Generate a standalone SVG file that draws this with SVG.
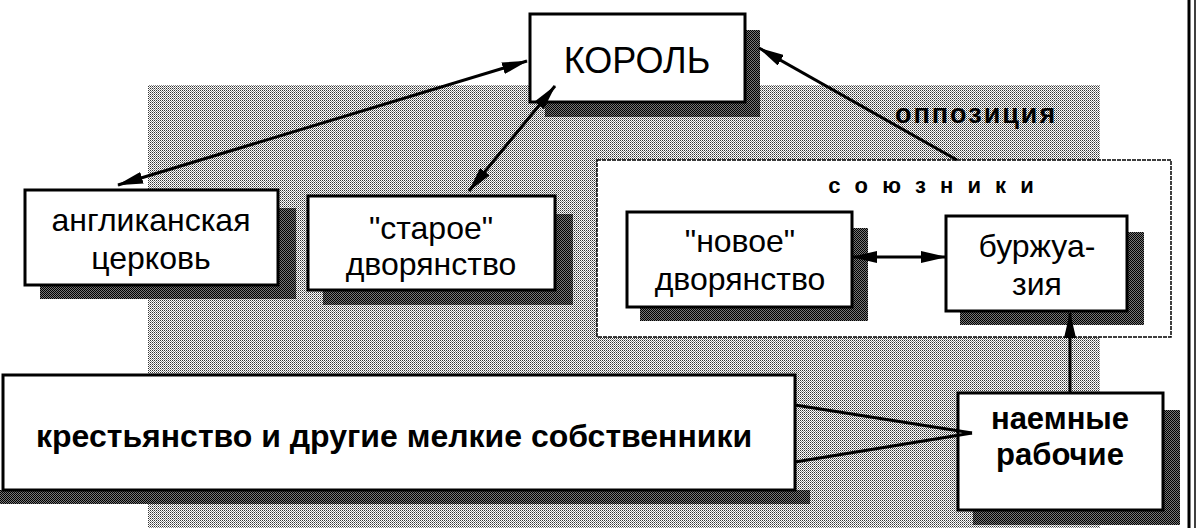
<svg xmlns="http://www.w3.org/2000/svg" width="1198" height="528" viewBox="0 0 1198 528">
<style>
.box{fill:#fff;stroke:#000;stroke-width:3}
.sh{fill:url(#dark)}
.t{font-family:"Liberation Sans",Arial,sans-serif;font-size:32px;fill:#000;text-anchor:middle}
.b{font-family:"Liberation Sans",Arial,sans-serif;font-weight:bold;fill:#000}
.ln{stroke:#000;stroke-width:3;fill:none}
</style>
<defs>
<pattern id="light" width="2" height="2" patternUnits="userSpaceOnUse">
<rect width="2" height="2" fill="#fff"/>
<rect width="1" height="1" fill="#333"/>
<rect x="1" y="1" width="1" height="1" fill="#888"/>
</pattern>
<pattern id="dark" width="2" height="2" patternUnits="userSpaceOnUse">
<rect width="2" height="2" fill="#777"/>
<rect width="1" height="1" fill="#000"/>
<rect x="1" y="1" width="1" height="1" fill="#000"/>
</pattern>
<marker id="ah" viewBox="0 0 26 12" refX="25" refY="6" markerWidth="26" markerHeight="12" markerUnits="userSpaceOnUse" orient="auto-start-reverse">
<path d="M0,0 L26,6 L0,12 Z" fill="#000"/>
</marker>
</defs>

<rect id="background" x="148" y="85" width="952" height="443" fill="url(#light)"/>
<line x1="1189" y1="0" x2="1189" y2="528" stroke="#000" stroke-width="3"/>
<line x1="1195" y1="0" x2="1195" y2="528" stroke="#000" stroke-width="1.5"/>

<g id="korol">
<path class="sh" d="M745,30 H760 V117 H545 V102 H745 Z"/>
<rect class="box" x="530" y="14" width="215" height="88"/>
<text class="t" x="637" y="73" style="font-size:36px">КОРОЛЬ</text>
</g>

<g id="church">
<path class="sh" d="M278,208 H296 V299 H40 V285 H278 Z"/>
<rect class="box" x="25" y="190" width="253" height="95"/>
<text class="t" x="151" y="231">англиканская</text>
<text class="t" x="151" y="269">церковь</text>
</g>

<g id="old-nobility">
<path class="sh" d="M555,214 H573 V305 H323 V290 H555 Z"/>
<rect class="box" x="308" y="196" width="247" height="94"/>
<text class="t" x="431" y="239">"старое"</text>
<text class="t" x="431" y="275">дворянство</text>
</g>

<g id="allies">
<rect x="597" y="160" width="574" height="177" fill="#fff" stroke="#000" stroke-width="1.5" stroke-dasharray="4,1"/>
<text class="b" x="933" y="193" font-size="22" text-anchor="middle" letter-spacing="4">с о ю з н и к и</text>
</g>

<g id="new-nobility">
<path class="sh" d="M852,228 H868 V321 H640 V307 H852 Z"/>
<rect class="box" x="627" y="212" width="225" height="95"/>
<text class="t" x="740" y="252">"новое"</text>
<text class="t" x="740" y="290">дворянство</text>
</g>

<g id="bourgeoisie">
<path class="sh" d="M1127,232 H1144 V325 H960 V311 H1127 Z"/>
<rect class="box" x="946" y="216" width="181" height="95"/>
<text class="t" x="1037" y="257">буржуа-</text>
<text class="t" x="1037" y="295">зия</text>
</g>

<g id="peasantry">
<path class="sh" d="M0,490 H810 V504 H0 Z"/>
<rect class="box" x="3" y="375" width="792" height="115"/>
<text class="b" x="36" y="447" font-size="32">крестьянство и другие мелкие собственники</text>
</g>

<g id="workers">
<path class="sh" d="M1163,410 H1180 V525 H973 V510 H1163 Z"/>
<rect class="box" x="958" y="393" width="205" height="117"/>
<text class="b" x="1060" y="429" font-size="31" text-anchor="middle">наемные</text>
<text class="b" x="1060" y="465" font-size="31" text-anchor="middle">рабочие</text>
</g>

<text id="opposition" class="b" x="895" y="123" font-size="27" letter-spacing="2">оппозиция</text>

<g id="connectors">
<line class="ln" x1="527" y1="61" x2="118" y2="185" marker-start="url(#ah)" marker-end="url(#ah)"/>
<line class="ln" x1="555" y1="86" x2="469" y2="191" marker-start="url(#ah)" marker-end="url(#ah)"/>
<line class="ln" x1="957" y1="160" x2="759" y2="48" marker-end="url(#ah)"/>
<line class="ln" x1="852" y1="257" x2="946" y2="257" marker-start="url(#ah)" marker-end="url(#ah)"/>
<line class="ln" x1="1070" y1="393" x2="1070" y2="313" marker-end="url(#ah)"/>
<line class="ln" x1="795" y1="405" x2="972" y2="433"/>
<line class="ln" x1="795" y1="462" x2="972" y2="433"/>
</g>
</svg>
